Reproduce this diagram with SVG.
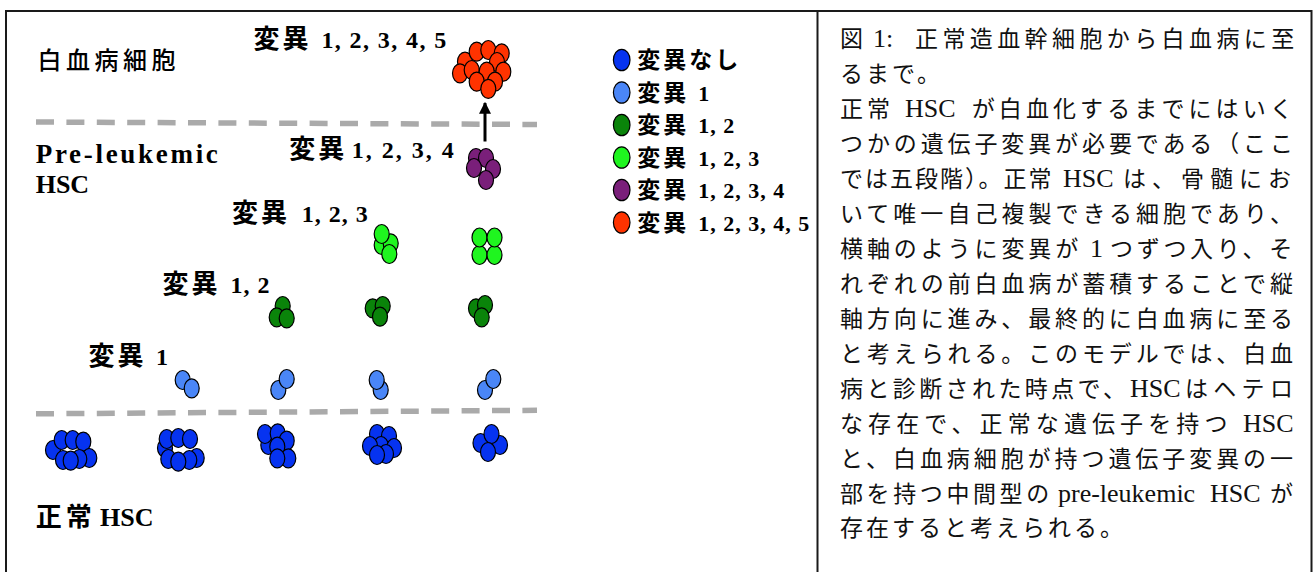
<svg xmlns="http://www.w3.org/2000/svg" width="1316" height="572" viewBox="0 0 1316 572">
  <style>
    .frame { fill: none; stroke: #1a1a1a; stroke-width: 2; }
    .sep { fill: none; stroke: #aaaaaa; stroke-width: 5.5; stroke-dasharray: 18 12.4; }
    .cell { stroke: #000; stroke-width: 1.2; }
    .c0 { fill: #0633f0; }
    .c1 { fill: #4a86f7; }
    .c2 { fill: #0a840a; }
    .c3 { fill: #1ff51f; }
    .c4 { fill: #7a1f7a; }
    .c5 { fill: #ff3300; }
    .lbl { font-family: "Liberation Serif", "Noto Sans CJK JP", serif; font-weight: bold; font-size: 24px; fill: #000; }
    .big { font-size: 26px; }
    .pre { font-size: 27px; letter-spacing: 2.7px; }
    .key { font-size: 22px; letter-spacing: 1px; }
    .kj { font-size: 26px; letter-spacing: 3px; }
    .kj4 { font-size: 26px; letter-spacing: 4px; }
    .lk { font-size: 23px; letter-spacing: 3px; }
    .head { font-family: "Liberation Serif", "Noto Sans CJK JP", serif; font-weight: 500; font-size: 24px; letter-spacing: 4.5px; fill: #000; }
    .body { font-family: "Liberation Serif", "Noto Sans CJK JP", serif; font-size: 23px; fill: #111; }
    .lat { font-size: 26px; letter-spacing: 0; }
    .link { stroke: #000; stroke-width: 3; fill: none; }
  </style>
  <defs>
    <ellipse id="e" rx="7.5" ry="9.5"/>
    <marker id="arrowhead" viewBox="0 0 10 10" refX="9" refY="5" markerWidth="4" markerHeight="4" orient="auto" markerUnits="strokeWidth">
      <path d="M0,0 L10,5 L0,10 z" fill="#000"/>
    </marker>
  </defs>

  <rect width="1316" height="572" fill="#fff"/>

  <!-- outer frame and panel divider -->
  <g id="frame">
    <rect class="frame" x="6" y="11" width="1305.5" height="575"/>
    <line class="frame" x1="817.5" y1="11" x2="817.5" y2="572"/>
  </g>

  <!-- dashed stage boundaries -->
  <g id="dividers">
    <line class="sep" x1="36" y1="122" x2="537" y2="124.5"/>
    <line class="sep" x1="36" y1="413.8" x2="537" y2="410.3"/>
  </g>

  <!-- stage labels -->
  <g id="label-leukemia"><text class="head" x="37.5" y="69">白血病細胞</text></g>
  <g id="label-preleukemic">
    <text class="lbl pre" x="35.7" y="162.7">Pre-leukemic</text>
    <text class="lbl big" x="35.7" y="192.5">HSC</text>
  </g>
  <g id="label-normal"><text class="lbl" y="526"><tspan class="kj4" x="35.7">正常</tspan><tspan class="big" x="100">HSC</tspan></text></g>

  <!-- mutation labels -->
  <g id="label-m5"><text class="lbl" y="48"><tspan class="kj" x="253.6">変異</tspan><tspan x="321.4" letter-spacing="1.4">1, 2, 3, 4, 5</tspan></text></g>
  <g id="label-m4"><text class="lbl" y="158"><tspan class="kj" x="289.3">変異</tspan><tspan x="351.8" letter-spacing="2">1, 2, 3, 4</tspan></text></g>
  <g id="label-m3"><text class="lbl" y="221.5"><tspan class="kj" x="232.1">変異</tspan><tspan x="301.8" letter-spacing="1">1, 2, 3</tspan></text></g>
  <g id="label-m2"><text class="lbl" y="293"><tspan class="kj" x="162.5">変異</tspan><tspan x="230.4" letter-spacing="1">1, 2</tspan></text></g>
  <g id="label-m1"><text class="lbl" y="365"><tspan class="kj" x="88.6">変異</tspan><tspan x="156">1</tspan></text></g>

  <!-- normal HSC clones -->
  <g id="normal-1" class="cell c0">
    <use href="#e" x="53" y="450"/><use href="#e" x="61.7" y="440"/><use href="#e" x="72.7" y="440"/>
    <use href="#e" x="83.3" y="441.7"/><use href="#e" x="89.3" y="458"/><use href="#e" x="79.3" y="459"/>
    <use href="#e" x="63" y="460"/><use href="#e" x="70.7" y="460.7"/>
  </g>
  <g id="normal-2" class="cell c0">
    <use href="#e" x="165" y="448"/><use href="#e" x="166.7" y="439"/><use href="#e" x="178.3" y="438"/>
    <use href="#e" x="190" y="439"/><use href="#e" x="196.7" y="458"/><use href="#e" x="168.3" y="459"/>
    <use href="#e" x="189.3" y="460"/><use href="#e" x="178.3" y="461.7"/>
  </g>
  <g id="normal-3" class="cell c0">
    <use href="#e" x="268.3" y="445"/><use href="#e" x="265" y="434"/><use href="#e" x="277.7" y="433.3"/>
    <use href="#e" x="286.7" y="440.7"/><use href="#e" x="277.3" y="446.7"/><use href="#e" x="288.3" y="458.3"/>
    <use href="#e" x="277.3" y="458.3"/>
  </g>
  <g id="normal-4" class="cell c0">
    <use href="#e" x="377" y="434"/><use href="#e" x="389" y="436"/><use href="#e" x="381" y="446"/>
    <use href="#e" x="394" y="448"/><use href="#e" x="370" y="446"/><use href="#e" x="386" y="454"/>
    <use href="#e" x="377" y="455"/>
  </g>
  <g id="normal-5" class="cell c0">
    <use href="#e" x="480.5" y="443"/><use href="#e" x="500" y="445"/><use href="#e" x="491.5" y="434"/>
    <use href="#e" x="488" y="452"/>
  </g>

  <!-- mutation 1 clones -->
  <g id="m1-1" class="cell c1"><use href="#e" x="182.7" y="380"/><use href="#e" x="191.7" y="388.3"/></g>
  <g id="m1-2" class="cell c1"><use href="#e" x="278.3" y="390"/><use href="#e" x="286.7" y="379"/></g>
  <g id="m1-3" class="cell c1"><use href="#e" x="380.7" y="390"/><use href="#e" x="376.7" y="380"/></g>
  <g id="m1-4" class="cell c1"><use href="#e" x="485" y="390"/><use href="#e" x="493.3" y="379"/></g>

  <!-- mutation 1,2 clones -->
  <g id="m2-1" class="cell c2"><use href="#e" x="282.7" y="306"/><use href="#e" x="276.7" y="317.3"/><use href="#e" x="286.7" y="318.3"/></g>
  <g id="m2-2" class="cell c2"><use href="#e" x="372.7" y="308.3"/><use href="#e" x="382.7" y="306"/><use href="#e" x="380" y="316.7"/></g>
  <g id="m2-3" class="cell c2"><use href="#e" x="476" y="308.3"/><use href="#e" x="485" y="305"/><use href="#e" x="481.7" y="317.3"/></g>

  <!-- mutation 1,2,3 clones -->
  <g id="m3-1" class="cell c3"><use href="#e" x="381.7" y="245"/><use href="#e" x="390.7" y="243.3"/><use href="#e" x="381.7" y="234"/><use href="#e" x="389.3" y="254"/></g>
  <g id="m3-2" class="cell c3"><use href="#e" x="479.5" y="255"/><use href="#e" x="494.5" y="255"/><use href="#e" x="479.5" y="237.5"/><use href="#e" x="494.5" y="237.5"/></g>

  <!-- mutation 1,2,3,4 clone -->
  <g id="m4" class="cell c4">
    <use href="#e" x="476" y="158"/><use href="#e" x="486" y="158"/><use href="#e" x="474" y="168"/>
    <use href="#e" x="493" y="169"/><use href="#e" x="486" y="180"/>
  </g>

  <!-- leukemic clone -->
  <g id="m5" class="cell c5">
    <use href="#e" x="465" y="61.7"/><use href="#e" x="476.7" y="51.7"/><use href="#e" x="488.3" y="50"/>
    <use href="#e" x="501.7" y="53.3"/><use href="#e" x="497" y="62"/><use href="#e" x="460" y="73.3"/>
    <use href="#e" x="471.7" y="70"/><use href="#e" x="486.7" y="71.7"/><use href="#e" x="503.3" y="71.7"/>
    <use href="#e" x="476.7" y="81.7"/><use href="#e" x="495" y="81.7"/><use href="#e" x="488.3" y="88.8"/>
  </g>

  <!-- transformation arrow -->
  <g id="connectors">
    <line class="link" x1="485" y1="141.5" x2="485" y2="103" marker-end="url(#arrowhead)"/>
  </g>

  <!-- colour key -->
  <g id="legend">
    <ellipse class="cell c0" cx="621.7" cy="60" rx="8.3" ry="10.7"/>
    <ellipse class="cell c1" cx="621.7" cy="92.5" rx="8.3" ry="10.7"/>
    <ellipse class="cell c2" cx="621.7" cy="125" rx="8.3" ry="10.7"/>
    <ellipse class="cell c3" cx="621.7" cy="157.5" rx="8.3" ry="10.7"/>
    <ellipse class="cell c4" cx="621.7" cy="190" rx="8.3" ry="10.7"/>
    <ellipse class="cell c5" cx="621.7" cy="222.5" rx="8.3" ry="10.7"/>
    <text class="lbl key" y="68"><tspan class="lk" x="637.3">変異なし</tspan></text>
    <text class="lbl key" y="100.5"><tspan class="lk" x="637.3">変異</tspan><tspan x="698.3">1</tspan></text>
    <text class="lbl key" y="133"><tspan class="lk" x="637.3">変異</tspan><tspan x="698.3">1, 2</tspan></text>
    <text class="lbl key" y="165.5"><tspan class="lk" x="637.3">変異</tspan><tspan x="698.3">1, 2, 3</tspan></text>
    <text class="lbl key" y="198"><tspan class="lk" x="637.3">変異</tspan><tspan x="698.3">1, 2, 3, 4</tspan></text>
    <text class="lbl key" y="230.5"><tspan class="lk" x="637.3">変異</tspan><tspan x="698.3">1, 2, 3, 4, 5</tspan></text>
  </g>

  <!-- caption -->
  <g id="caption" class="body">
    <text y="47"><tspan x="840">図</tspan><tspan class="lat" x="873">1:</tspan><tspan x="915" letter-spacing="4.4">正常造血幹細胞から白血病に至</tspan></text>
    <text x="840" y="82" letter-spacing="3">るまで。</text>
    <text y="117"><tspan x="840" letter-spacing="4">正常</tspan><tspan class="lat" x="905">HSC</tspan><tspan x="971.7" letter-spacing="4.1">が白血化するまでにはいく</tspan></text>
    <text x="840" y="152" textLength="453" lengthAdjust="spacing">つかの遺伝子変異が必要である（ここ</text>
    <text y="187"><tspan x="840" letter-spacing="2">では五段階）。正常</tspan><tspan class="lat" x="1063">HSC</tspan><tspan x="1123" letter-spacing="6">は、骨髄にお</tspan></text>
    <text x="840" y="222" textLength="453" lengthAdjust="spacing">いて唯一自己複製できる細胞であり、</text>
    <text y="257"><tspan x="840" letter-spacing="3.9">横軸のように変異が</tspan><tspan class="lat" x="1090">1</tspan><tspan x="1110" letter-spacing="3.7">つずつ入り、そ</tspan></text>
    <text x="840" y="292" textLength="453" lengthAdjust="spacing">れぞれの前白血病が蓄積することで縦</text>
    <text x="840" y="327" textLength="453" lengthAdjust="spacing">軸方向に進み、最終的に白血病に至る</text>
    <text x="840" y="362" textLength="453" lengthAdjust="spacing">と考えられる。このモデルでは、白血</text>
    <text y="397"><tspan x="840" letter-spacing="3.4">病と診断された時点で、</tspan><tspan class="lat" x="1130">HSC</tspan><tspan x="1185" letter-spacing="5.3">はヘテロ</tspan></text>
    <text y="432"><tspan x="840" letter-spacing="5.1">な存在で、正常な遺伝子を持つ</tspan><tspan class="lat" x="1243">HSC</tspan></text>
    <text x="840" y="467" textLength="453" lengthAdjust="spacing">と、白血病細胞が持つ遺伝子変異の一</text>
    <text y="502"><tspan x="840" letter-spacing="3.6">部を持つ中間型の</tspan><tspan class="lat" x="1058">pre-leukemic</tspan><tspan class="lat" x="1210">HSC</tspan><tspan x="1270">が</tspan></text>
    <text x="840" y="536" letter-spacing="3">存在すると考えられる。</text>
  </g>
</svg>
